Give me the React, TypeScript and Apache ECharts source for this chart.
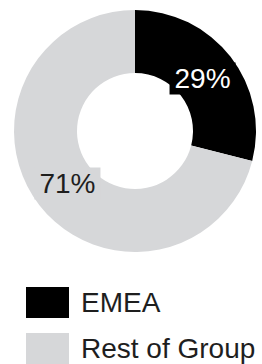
import React, { useEffect, useRef } from "react";
import * as echarts from "echarts";

const categories = ["EMEA", "Rest of Group"];
const values = [29, 71];
const sliceColors = ["#000000", "#d6d7d9"];
const labelColors = ["#ffffff", "#1e1e1e"];

export default function App() {
  const ref = useRef<HTMLDivElement>(null);
  useEffect(() => {
    if (!ref.current) return;
    const chart = echarts.init(ref.current, undefined, { renderer: "svg" });
    const total = values.reduce((a, b) => a + b, 0);
    let cum = 0;
    const data = categories.map((name, i) => {
      const frac = (cum + values[i] / 2) / total;
      cum += values[i];
      const th = frac * Math.PI * 2;
      const inward = 7;
      return {
        name,
        value: values[i],
        itemStyle: { color: sliceColors[i] },
        label: {
          color: labelColors[i],
          backgroundColor: sliceColors[i],
          offset: [-inward * Math.sin(th), inward * Math.cos(th)],
        },
      };
    });
    chart.setOption({
      animation: false,
      textStyle: { fontFamily: "Liberation Sans, Arial, sans-serif" },
      legend: {
        orient: "vertical",
        left: 26,
        top: 287,
        padding: 0,
        itemWidth: 43,
        itemHeight: 31,
        itemGap: 15,
        icon: "rect",
        data: categories,
        textStyle: {
          fontSize: 28,
          color: "#1e1e1e",
          fontFamily: "Liberation Sans, Arial, sans-serif",
          padding: [0, 0, 0, 7],
        },
      },
      series: [
        {
          type: "pie",
          center: [135, 131],
          radius: [58, 121],
          startAngle: 90,
          clockwise: true,
          avoidLabelOverlap: false,
          silent: true,
          label: {
            show: true,
            position: "inside",
            formatter: "{c}%",
            fontSize: 28,
            fontFamily: "Liberation Sans, Arial, sans-serif",
            padding: [2, 5],
          },
          labelLine: { show: false },
          data,
        },
      ],
    });
    return () => chart.dispose();
  }, []);
  return (
    <div
      ref={ref}
      style={{ position: "fixed", left: 0, top: 0, width: 262, height: 364, background: "#fff" }}
    />
  );
}
